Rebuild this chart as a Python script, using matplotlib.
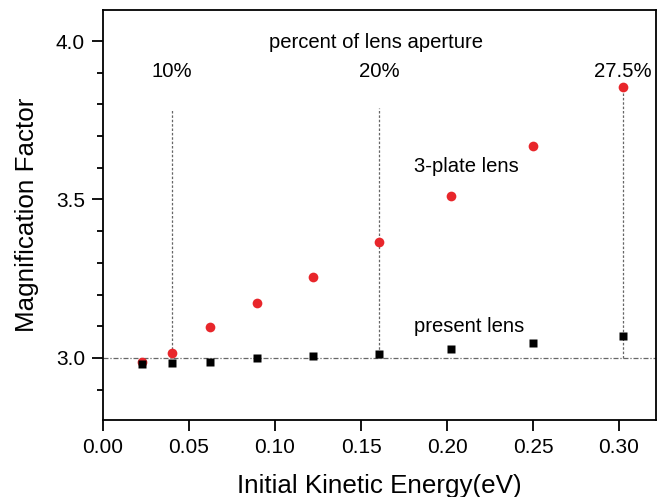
import matplotlib
matplotlib.use("Agg")
import matplotlib.pyplot as plt
from matplotlib.ticker import MultipleLocator

plt.rcParams['font.family'] = ['Liberation Sans', 'DejaVu Sans']

energy = [0.0227, 0.040, 0.0622, 0.0897, 0.122, 0.1605, 0.2023, 0.250, 0.3023]
three_plate = [2.988, 3.016, 3.099, 3.174, 3.256, 3.367, 3.511, 3.669, 3.855]
present = [2.980, 2.983, 2.986, 2.999, 3.005, 3.013, 3.029, 3.048, 3.069]

aperture_x = [0.040, 0.1605, 0.3023]
aperture_labels = ["10%", "20%", "27.5%"]
aperture_line_top = [3.782, 3.79, 3.855]
baseline = 3.0

fig = plt.figure(figsize=(6.62, 4.97), dpi=100)
ax = fig.add_axes([103/662, 77/497, 553/662, 410/497])

ax.axhline(baseline, color='#666666', lw=0.9, ls=(0, (4, 1.5, 1, 1.5)), zorder=1)
for x, top in zip(aperture_x, aperture_line_top):
    ax.plot([x, x], [baseline, top], color='#666666', lw=0.9, ls=(0, (2, 1.5)), zorder=1)

ax.plot(energy, three_plate, 'o', color='#e8262b', ms=7, mec='none', zorder=3)
ax.plot(energy, present, 's', color='black', ms=6.2, mec='none', zorder=3)

for x, lab in zip(aperture_x, aperture_labels):
    ax.text(x, 3.905, lab, ha='center', va='center', fontsize=14.7)
ax.text(0.159, 3.997, "percent of lens aperture", ha='center', va='center', fontsize=14.6)
ax.text(0.211, 3.605, "3-plate lens", ha='center', va='center', fontsize=14.6)
ax.text(0.213, 3.098, "present lens", ha='center', va='center', fontsize=14.6)

ax.set_xlim(0, 0.3215)
ax.set_ylim(2.804, 4.098)
ax.set_xticks([0.00, 0.05, 0.10, 0.15, 0.20, 0.25, 0.30])
ax.set_xticklabels(["0.00", "0.05", "0.10", "0.15", "0.20", "0.25", "0.30"])
ax.set_yticks([3.0, 3.5, 4.0])
ax.set_yticklabels(["3.0", "3.5", "4.0"])
ax.yaxis.set_minor_locator(MultipleLocator(0.1))
ax.tick_params(axis='both', which='major', direction='out', length=8, width=1.3, labelsize=15, pad=5)
ax.tick_params(axis='y', which='minor', direction='out', length=4, width=1.3)
ax.tick_params(top=False, right=False)
for s in ax.spines.values():
    s.set_linewidth(1.3)

ax.set_xlabel("Initial Kinetic Energy(eV)", fontsize=18.7, labelpad=12)
ax.set_ylabel("Magnification Factor", fontsize=18.7, labelpad=12)

fig.savefig("out.png", dpi=100)
